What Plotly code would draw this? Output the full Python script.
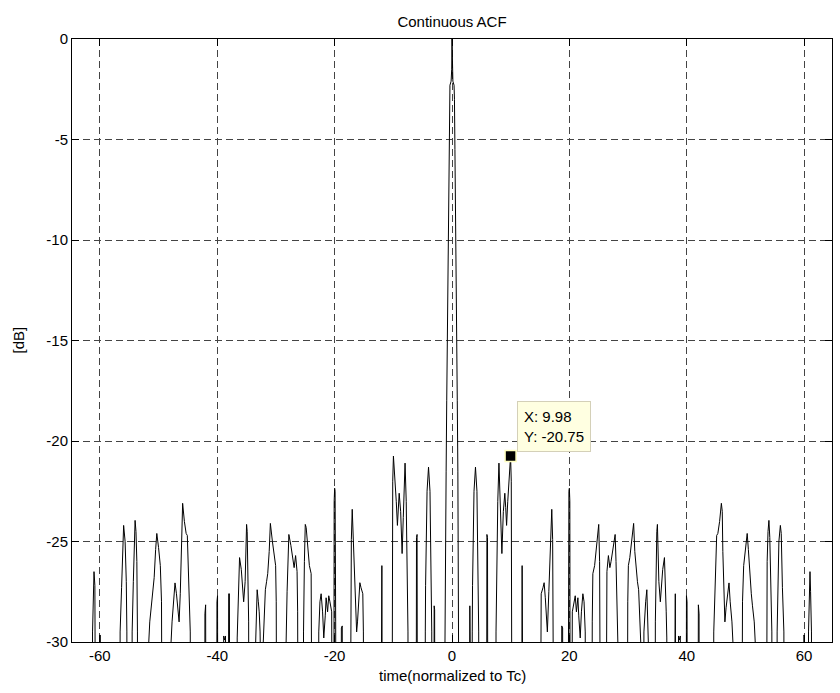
import plotly.graph_objects as go

# Positive-lag half of the continuous ACF (lag in chips, level in dB).
# The ACF is symmetric, so the negative half mirrors these values.
lag_pos = [
    0.0, 0.05, 0.15, 0.35, 0.42, 0.5, 0.6, 0.7, 0.8, 0.9, 1.0, 1.07, 1.15, 1.22, 1.25,
    2.9, 2.96, 3.04, 3.1,
    3.4, 3.45, 3.5, 3.75, 4.0, 4.25, 4.5, 4.55, 4.6,
    5.88, 5.95, 6.05, 6.12,
    7.45, 7.5, 7.6, 7.8, 8.0, 8.15, 8.3, 8.5, 8.75, 9.0, 9.15, 9.3, 9.5, 9.8, 9.98, 10.1, 10.2, 10.25,
    11.85, 11.95, 12.05, 12.15,
    15.0, 15.1, 15.2, 15.5, 15.7, 15.9, 16.1, 16.25, 16.5, 16.7, 17.0, 17.15, 17.3, 17.4,
    18.65, 18.7, 18.85, 18.9,
    19.75, 19.82, 19.92, 20.0, 20.08, 20.15,
    20.4, 20.5, 20.8, 21.0, 21.2, 21.45, 21.6, 21.85, 22.05, 22.3, 22.5, 22.7, 22.8,
    23.8, 23.9, 24.0, 24.3, 24.6, 24.85, 25.0, 25.15, 25.3, 25.35,
    26.2, 26.3, 26.4, 26.65, 26.9, 27.1, 27.45, 27.8, 27.95, 28.1, 28.3, 28.35,
    29.85, 29.95, 30.05, 30.3, 30.6, 30.95, 31.15, 31.4, 31.6, 31.8, 32.0, 32.2, 32.25,
    32.65, 32.7, 32.85, 33.0, 33.2, 33.35, 33.5, 33.55,
    34.6, 34.65, 34.75, 34.9, 35.0, 35.1, 35.25, 35.5, 35.7, 35.9, 36.2, 36.35, 36.5, 36.6, 36.65,
    37.85, 37.93, 38.05, 38.12,
    38.55, 38.6, 38.75, 38.9, 38.95,
    39.88, 39.95, 40.05, 40.12,
    41.9, 41.98, 42.1, 42.15,
    44.5, 44.6, 44.7, 44.9, 45.1, 45.3, 45.6, 45.9, 46.05, 46.15, 46.3, 46.5, 46.7, 46.95, 47.2, 47.4, 47.7, 47.95, 48.0,
    49.35, 49.45, 49.5, 49.7, 50.0, 50.3, 50.5, 50.75, 51.0, 51.2, 51.5, 51.75, 51.8,
    53.55, 53.6, 53.7, 53.85, 54.0, 54.15, 54.3, 54.5, 54.55,
    55.35, 55.4, 55.5, 55.7, 55.95, 56.1, 56.3, 56.55, 56.6,
    59.92, 59.96, 60.04, 60.08,
    60.7, 60.75, 60.85, 61.0, 61.1, 61.25, 61.3,
    64.7,
]
db_pos = [
    0.0, -1.5, -2.1, -2.3, -3.0, -5.5, -8.0, -11.0, -14.5, -18.0, -21.5, -25.0, -29.0, -31.0, -40,
    -40, -28.4, -28.2, -40,
    -40, -29.5, -27.2, -22.5, -21.3, -22.5, -27.2, -29.5, -40,
    -40, -24.65, -24.8, -40,
    -40, -29.5, -26.3, -23.0, -21.1, -22.5, -23.8, -25.6, -23.5, -22.6, -23.3, -24.2, -23.0, -21.5, -20.75, -22.0, -27.0, -40,
    -40, -26.2, -26.5, -40,
    -40, -29.5, -27.6, -27.3, -27.05, -27.8, -29.0, -29.5, -27.5, -25.5, -23.4, -24.9, -28.0, -40,
    -40, -29.2, -29.3, -40,
    -40, -29.0, -22.5, -22.35, -23.0, -40,
    -40, -28.5, -28.0, -27.7, -28.5, -27.8, -28.7, -29.8, -28.5, -27.6, -28.0, -29.5, -40,
    -40, -29.0, -26.6, -26.2, -25.2, -24.3, -24.15, -26.0, -29.5, -40,
    -40, -28.5, -26.5, -25.7, -26.3, -26.0, -25.2, -24.65, -26.0, -27.5, -30.5, -40,
    -40, -28.0, -26.2, -25.8, -25.0, -24.1, -25.5, -26.6, -27.0, -27.4, -28.5, -30.3, -40,
    -40, -29.5, -28.5, -28.0, -27.4, -28.5, -30.5, -40,
    -40, -29.0, -26.5, -24.5, -24.15, -25.0, -27.0, -28.0, -27.2, -26.4, -25.8, -26.8, -28.5, -29.8, -40,
    -40, -27.6, -27.6, -40,
    -40, -29.7, -29.9, -29.7, -40,
    -40, -27.7, -28.0, -40,
    -40, -28.15, -28.6, -40,
    -40, -29.5, -28.4, -26.5, -24.7, -24.6, -24.0, -23.1, -23.5, -25.5, -27.6, -29.0, -28.3, -27.6, -27.06, -28.0, -29.0, -30.5, -40,
    -40, -29.5, -28.0, -26.2, -25.3, -24.6, -25.4, -26.8, -27.6, -28.2, -29.0, -30.5, -40,
    -40, -29.5, -26.0, -24.5, -23.95, -24.8, -27.0, -29.5, -40,
    -40, -29.5, -27.0, -25.0, -24.2, -24.6, -27.3, -29.5, -40,
    -40, -29.65, -29.7, -40,
    -40, -29.5, -27.2, -26.5, -27.5, -29.5, -40,
    -40,
]

x_ticks = [-60, -40, -20, 0, 20, 40, 60]
x_tick_text = ["-60", "-40", "-20", "0", "20", "40", "60"]
y_ticks = [0, -5, -10, -15, -20, -25, -30]
y_tick_text = ["0", "-5", "-10", "-15", "-20", "-25", "-30"]

tip_x = 9.98
tip_y = -20.75

# Full symmetric curve
lags = [-t for t in lag_pos[:0:-1]] + lag_pos
levels = db_pos[:0:-1] + db_pos

FONT = "Liberation Sans, Arial, sans-serif"

fig = go.Figure()
fig.add_trace(go.Scatter(x=lags, y=levels, mode="lines",
                         line=dict(color="black", width=1), hoverinfo="skip", showlegend=False))
fig.add_trace(go.Scatter(x=[tip_x], y=[tip_y], mode="markers",
                         marker=dict(symbol="square", size=11, color="black",
                                     line=dict(color="#FFFFC0", width=1.5)),
                         showlegend=False, hoverinfo="skip"))

fig.add_annotation(x=tip_x, y=tip_y, xref="x", yref="y",
                   text="X: 9.98<br>Y: -20.75", showarrow=False,
                   xanchor="left", yanchor="bottom", xshift=6, yshift=4, align="left",
                   bgcolor="#FFFFE1", bordercolor="#D4D0B8", borderwidth=1, borderpad=6,
                   font=dict(family=FONT, size=15, color="black"))

fig.add_annotation(x=0.5, y=-0.056, xref="paper", yref="paper", text="time(normalized to Tc)",
                   showarrow=False, xanchor="center", yanchor="middle",
                   font=dict(family=FONT, size=15, color="black"))
fig.add_annotation(x=-0.071, y=0.5, xref="paper", yref="paper", text="[dB]", textangle=-90,
                   showarrow=False, xanchor="center", yanchor="middle",
                   font=dict(family=FONT, size=15, color="black"))

axis_common = dict(showline=True, linecolor="black", linewidth=1, mirror="ticks",
                   ticks="inside", ticklen=7, tickcolor="black", tickwidth=1,
                   showgrid=True, gridcolor="#444444", gridwidth=1, griddash="7px,4px",
                   zeroline=False, tickfont=dict(family=FONT, size=15, color="black"))

fig.update_xaxes(range=[-64.75, 64.75], tickvals=x_ticks, ticktext=x_tick_text, **axis_common)
fig.update_yaxes(range=[-30, 0], tickvals=y_ticks, ticktext=y_tick_text, **axis_common)

fig.update_layout(
    width=840, height=693,
    margin=dict(l=72, r=8, t=39, b=51),
    paper_bgcolor="white", plot_bgcolor="white",
    title=dict(text="Continuous ACF", x=0.5, xref="paper", xanchor="center",
               y=1 - 22 / 693, yref="container", yanchor="middle",
               font=dict(family=FONT, size=15, color="black")),
    showlegend=False,
)

fig.write_html("out.html")
